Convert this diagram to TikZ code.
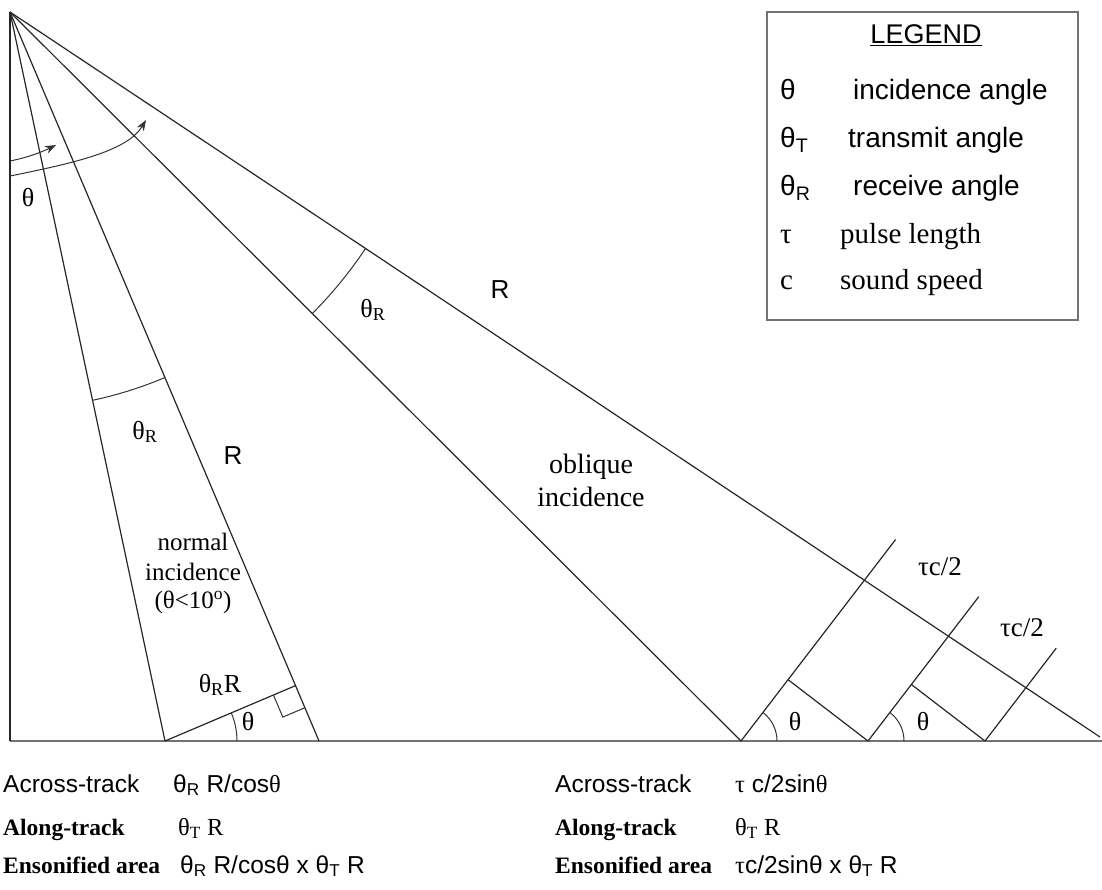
\documentclass[tikz,border=0pt]{standalone}
\usepackage{fontspec}
\setmainfont{Liberation Serif}
\newfontfamily\ar{Liberation Sans}
\usetikzlibrary{calc,arrows.meta}
\newcommand\fs[1]{\fontsize{#1}{#1}\selectfont}
\begin{document}
\begin{tikzpicture}[x=1pt,y=-1pt,
  beam/.style={line width=1.2pt,black!85},
  fine/.style={line width=1pt,black!80},
  seabed/.style={line width=1.6pt,black!55},
  legbox/.style={line width=1.3pt,black!55},
  arr/.style={fine,-{Stealth[length=11pt,width=8pt]}},
  lab/.style={inner sep=0pt,font=\fs{26}},
  slab/.style={inner sep=0pt,font=\ar\fs{26}},
  leg/.style={inner sep=0pt,anchor=base west,font=\ar\fs{28}},
  legs/.style={inner sep=0pt,anchor=base west,font=\fs{29}},
  bot/.style={inner sep=0pt,anchor=base west,font=\ar\fs{24.5}},
  bots/.style={inner sep=0pt,anchor=base west,font=\bfseries\fs{23.5}},
  botr/.style={inner sep=0pt,anchor=base west,font=\fs{24.5}}]
\useasboundingbox (0,0) rectangle (1102,890);
% points
\coordinate (A) at (10,12);
\coordinate (B0) at (10,741);
\coordinate (B1) at (165,741);
\coordinate (B2) at (319,741);
\coordinate (B3) at (741,741);
\coordinate (B4) at (1100,737);
\coordinate (SE) at (1102,741);
\coordinate (C2) at (868,741);
\coordinate (C3) at (985,741);
\coordinate (W1) at ($(B3)+(-52.5:254)$);
\coordinate (W2) at ($(C2)+(-52.5:182)$);
\coordinate (W3) at ($(C3)+(-52.5:117)$);
\coordinate (S1) at ($(B3)!(C2)!(W1)$);
\coordinate (S2) at ($(C2)!(C3)!(W2)$);
\coordinate (F) at ($(A)!(B1)!(B2)$);
\coordinate (P1) at ($(F)!24pt!(B1)$);
\coordinate (P2) at ($(F)!24pt!(B2)$);
\coordinate (PC) at ($(P1)+(P2)-(F)$);
% seabed
\draw[seabed] (B0) -- (SE);
% beams
\draw[beam] (A) -- (B0);
\draw[beam] (A) -- (B1);
\draw[beam] (A) -- (B2);
\draw[beam] (A) -- (B3);
\draw[beam] (A) -- (B4);
% normal incidence footprint
\draw[beam] (B1) -- (F);
\draw[fine] (P1) -- (PC) -- (P2);
\draw[fine] ([shift={(B1)}]0:72) arc[start angle=0,end angle=-22.97,radius=72];
% receive angle arcs
\draw[fine] ([shift={(A)}]78.0:397) arc[start angle=78.0,end angle=67.03,radius=397];
\draw[fine] ([shift={(A)}]44.92:427) arc[start angle=44.92,end angle=33.63,radius=427];
% oblique wavefronts
\draw[beam] (B3) -- (W1);
\draw[beam] (C2) -- (W2);
\draw[beam] (C3) -- (W3);
\draw[beam] (C2) -- (S1);
\draw[beam] (C3) -- (S2);
\draw[fine] ([shift={(B3)}]0:36) arc[start angle=0,end angle=-52.5,radius=36];
\draw[fine] ([shift={(C2)}]0:36) arc[start angle=0,end angle=-52.5,radius=36];
% incidence angle arrows
\coordinate (a1s) at (10,161);
\coordinate (a1e) at (56,145);
\coordinate (a2s) at (10,176);
\coordinate (a2e) at (146,120);
\draw[arr] (a1s) .. controls (30,157) and (44,151) .. (a1e);
\draw[arr] (a2s) .. controls (80,162) and (128,150) .. (a2e);
% diagram labels
\node[lab] (th0) at (28,198) {θ};
\node[lab] (thr1) at (145,432) {θ\textsubscript{R}};
\node[slab] (r1) at (233,456) {R};
\node[lab,font=\fs{25}] (ni1) at (193,542) {normal};
\node[lab,font=\fs{25}] (ni2) at (193,572) {incidence};
\node[lab,font=\fs{25}] (ni3) at (193,602) {(θ<10\textsuperscript{o})};
\node[lab] (thrr) at (220,685) {θ\textsubscript{R}R};
\node[lab] (th1) at (248,722) {θ};
\node[lab] (thr2) at (373,310) {θ\textsubscript{R}};
\node[slab] (r2) at (500,290) {R};
\node[lab,font=\fs{28}] (ob1) at (591,467) {oblique};
\node[lab,font=\fs{28}] (ob2) at (591,497) {incidence};
\node[lab,font=\fs{27}] (tc1) at (940,567) {τc/2};
\node[lab,font=\fs{27}] (tc2) at (1022,628) {τc/2};
\node[lab] (th2) at (795,722) {θ};
\node[lab] (th3) at (923,722) {θ};
% legend
\draw[legbox] (767,12) rectangle (1078,320);
\node[inner sep=0pt,anchor=base,font=\ar\fs{27}] (lg) at (926,44) {\underline{LEGEND}};
\node[leg] (l1a) at (780,100) {θ};
\node[leg] (l1b) at (853,100) {incidence angle};
\node[leg] (l2a) at (780,148) {θ\textsubscript{T}};
\node[leg] (l2b) at (848,148) {transmit angle};
\node[leg] (l3a) at (780,196) {θ\textsubscript{R}};
\node[leg] (l3b) at (853,196) {receive angle};
\node[legs] (l4a) at (780,244) {τ};
\node[legs] (l4b) at (840,244) {pulse length};
\node[legs] (l5a) at (780,290) {c};
\node[legs] (l5b) at (840,290) {sound speed};
% bottom text, left
\node[bot] (b1a) at (3,792) {Across-track};
\node[bot] (b1b) at (173,792) {θ\textsubscript{R} R/cos{\rmfamily θ}};
\node[bots] (b2a) at (3,835) {Along-track};
\node[botr] (b2b) at (178,835) {θ\textsubscript{T} R};
\node[bots] (b3a) at (3,873) {Ensonified area};
\node[bot] (b3b) at (180,873) {θ\textsubscript{R} R/cosθ x θ\textsubscript{T} R};
% bottom text, right
\node[bot] (b4a) at (555,792) {Across-track};
\node[bot] (b4b) at (735,792) {{\rmfamily τ} c/2sin{\rmfamily θ}};
\node[bots] (b5a) at (555,835) {Along-track};
\node[botr] (b5b) at (735,835) {θ\textsubscript{T} R};
\node[bots] (b6a) at (555,873) {Ensonified area};
\node[bot] (b6b) at (735,873) {{\rmfamily τ}c/2sinθ x θ\textsubscript{T} R};
\end{tikzpicture}
\end{document}
